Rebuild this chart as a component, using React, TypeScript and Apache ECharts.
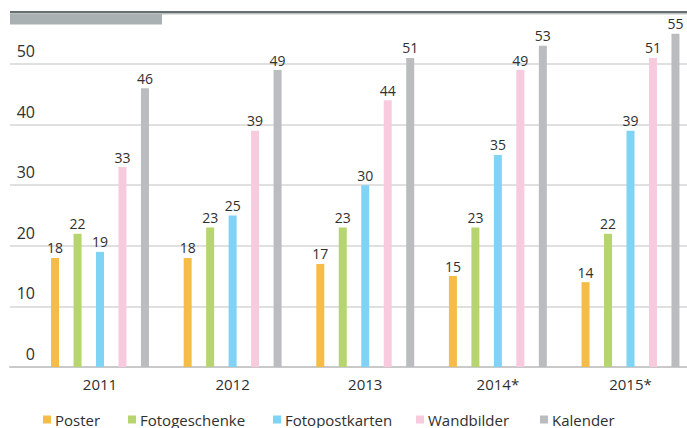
import React, { useEffect, useRef } from "react";
import * as echarts from "echarts";

const years = ["2011", "2012", "2013", "2014*", "2015*"];
const seriesNames = ["Poster", "Fotogeschenke", "Fotopostkarten", "Wandbilder", "Kalender"];
const poster = [18, 18, 17, 15, 14];
const fotogeschenke = [22, 23, 23, 23, 22];
const fotopostkarten = [19, 25, 30, 35, 39];
const wandbilder = [33, 39, 44, 49, 51];
const kalender = [46, 49, 51, 53, 55];
const colors = ["#f5bd48", "#b6d56f", "#7fd3f5", "#f8cade", "#bbbcc0"];
const legendLeft = [43, 128, 273, 416, 540];

const FONT = "'Open Sans', 'Noto Sans', sans-serif";
const TEXT = "#2f2f2f";

export default function App() {
  const ref = useRef<HTMLDivElement>(null);
  useEffect(() => {
    if (!ref.current) return;
    const chart = echarts.init(ref.current, null, { renderer: "svg" });
    const values = [poster, fotogeschenke, fotopostkarten, wandbilder, kalender];
    chart.setOption({
      animation: false,
      backgroundColor: "#ffffff",
      textStyle: { fontFamily: FONT },
      grid: [
        { left: 10, right: 0, top: 64, bottom: 61 },
        { left: 100, right: 56.5, top: 64, bottom: 61 },
      ],
      xAxis: [
        {
          gridIndex: 0,
          type: "value",
          min: 0,
          max: 1,
          axisLine: { show: true, onZero: false, lineStyle: { color: "#c9c9c9", width: 2 } },
          axisTick: { show: false },
          axisLabel: { show: false },
          splitLine: { show: false },
        },
        {
          gridIndex: 1,
          type: "category",
          data: years,
          boundaryGap: false,
          axisLine: { show: false },
          axisTick: { show: false },
          axisLabel: { color: TEXT, fontSize: 15, margin: 9, fontFamily: FONT },
        },
      ],
      yAxis: [
        {
          gridIndex: 0,
          type: "value",
          min: 0,
          max: 50,
          interval: 10,
          axisLine: { show: false },
          axisTick: { show: false },
          axisLabel: {
            inside: true,
            align: "right",
            margin: 25,
            verticalAlign: "bottom",
            padding: [0, 0, 5, 0],
            color: TEXT,
            fontSize: 16,
            fontFamily: FONT,
          },
          splitLine: { lineStyle: { color: "#d6d6d6", width: 1.5 } },
        },
        {
          gridIndex: 1,
          type: "value",
          min: 0,
          max: 50,
          interval: 10,
          show: false,
          splitLine: { show: false },
        },
      ],
      legend: seriesNames.map((n, i) => ({
        data: [n],
        left: legendLeft[i],
        top: 412,
        itemWidth: 8,
        itemHeight: 8,
        icon: "rect",
        itemGap: 0,
        padding: 0,
        textStyle: { color: TEXT, fontSize: 15, fontFamily: FONT, padding: [0, 0, 0, -1] },
      })),
      series: seriesNames.map((n, i) => ({
        name: n,
        type: "bar",
        xAxisIndex: 1,
        yAxisIndex: 1,
        data: values[i],
        barWidth: 8,
        barGap: "181%",
        clip: false,
        itemStyle: { color: colors[i] },
        label: {
          show: true,
          position: "top",
          distance: 3,
          color: TEXT,
          fontSize: 14,
          fontFamily: FONT,
        },
      })),
      graphic: [
        { type: "rect", shape: { x: 10, y: 11, width: 677, height: 2.5 }, style: { fill: "#667070" } },
        { type: "rect", shape: { x: 10, y: 13.5, width: 677, height: 1 }, style: { fill: "#c3c8c8" } },
        { type: "rect", shape: { x: 10, y: 14, width: 152, height: 10.5 }, style: { fill: "#a9b1b2" } },
      ],
    });
    return () => chart.dispose();
  }, []);
  return (
    <div
      ref={ref}
      style={{ position: "fixed", left: 0, top: 0, width: 687, height: 428 }}
    />
  );
}
